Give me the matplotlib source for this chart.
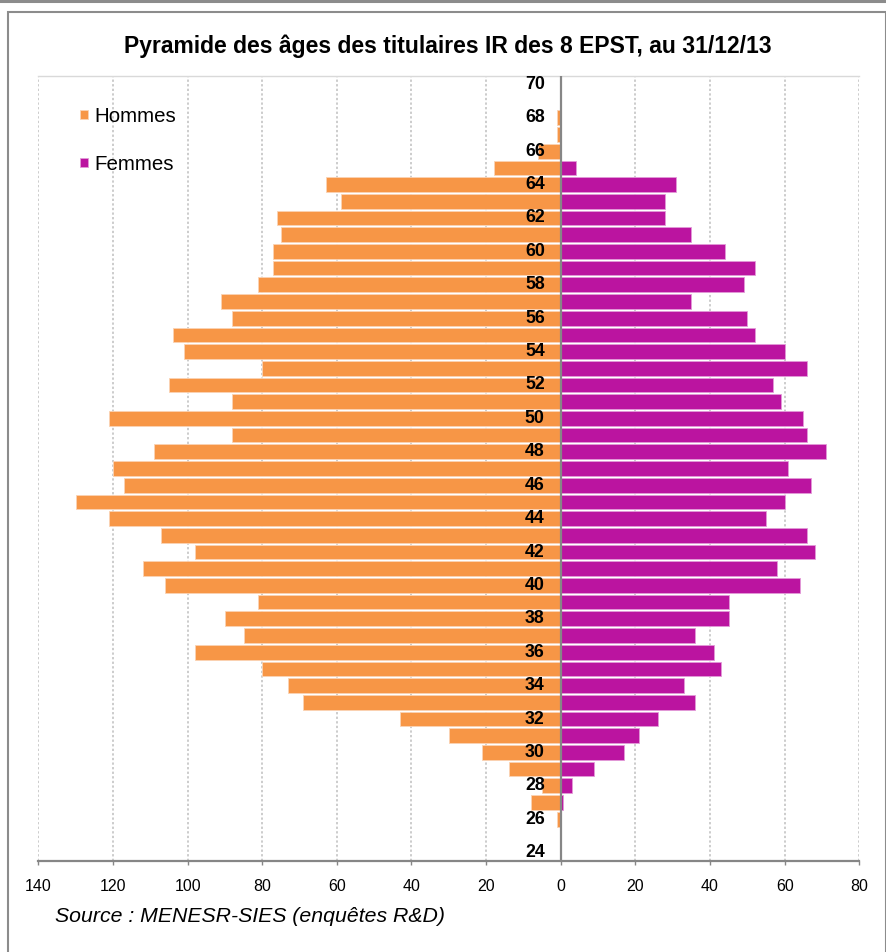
import matplotlib
matplotlib.use("Agg")
import matplotlib.pyplot as plt
from matplotlib.ticker import FuncFormatter
from matplotlib.patches import Rectangle
from matplotlib.lines import Line2D

plt.rcParams['font.family'] = ['Liberation Sans', 'DejaVu Sans']

# Age groups (years) and headcounts by sex
ages = list(range(25, 70))
hommes = [0, 1, 8, 5, 14, 21, 30, 43, 69, 73,
          80, 98, 85, 90, 81, 106, 112, 98, 107, 121,
          130, 117, 120, 109, 88, 121, 88, 105, 80, 101,
          104, 88, 91, 81, 77, 77, 75, 76, 59, 63,
          18, 6, 1, 1, 0]
femmes = [0, 0, 0.5, 3, 9, 17, 21, 26, 36, 33,
          43, 41, 36, 45, 45, 64, 58, 68, 66, 55,
          60, 67, 61, 71, 66, 65, 59, 57, 66, 60,
          52, 50, 35, 49, 52, 44, 35, 28, 28, 31,
          4, 0, 0, 0, 0]
age_labels = list(range(24, 71, 2))
x_ticks = list(range(-140, 81, 20))

title = "Pyramide des âges des titulaires IR des 8 EPST, au 31/12/13"
source = "Source : MENESR-SIES (enquêtes R&D)"

c_h = "#F79646"
c_f = "#BB14A0"

W, H = 887, 952
fig = plt.figure(figsize=(W / 100, H / 100), dpi=100)
fig.patch.set_facecolor("white")

ax = fig.add_axes([38.3 / W, 1 - 861 / H, (859.3 - 38.3) / W, (861 - 76) / H])
ax.set_xlim(-140, 80)
ax.set_ylim(23.5, 70.5)

bh = ax.barh(ages, [-v for v in hommes], height=0.88, color=c_h,
             edgecolor="#FAD3B4", linewidth=0.6, zorder=2, label="Hommes")
bf = ax.barh(ages, femmes, height=0.88, color=c_f,
             edgecolor="#E39AD8", linewidth=0.6, zorder=2, label="Femmes")

# vertical dotted grid
ax.set_xticks(x_ticks)
ax.xaxis.set_major_formatter(FuncFormatter(lambda v, p: f"{abs(int(v))}"))
ax.grid(axis="x", color="#BFBFBF", linestyle=(0, (1.5, 1.5)), linewidth=1.1, zorder=0)
ax.set_axisbelow(True)
ax.set_yticks([])

# zero axis
ax.axvline(0, color="#868686", linewidth=1.6, zorder=3)

for s in ("left", "right"):
    ax.spines[s].set_visible(False)
ax.spines["top"].set_color("#D9D9D9")
ax.spines["top"].set_linewidth(1.0)
ax.spines["bottom"].set_color("#868686")
ax.spines["bottom"].set_linewidth(1.6)
ax.tick_params(axis="x", direction="out", length=3, width=1, color="#868686",
               pad=10, labelsize=11.5, labelcolor="black")

# age labels on the central axis
for a in age_labels:
    ax.annotate(str(a), xy=(0, a), xytext=(-11.5, 0), textcoords="offset points",
                ha="right", va="center", fontsize=12.8, fontweight="bold",
                color="black", zorder=5)

leg = ax.legend(handles=[bh, bf], labels=["Hommes", "Femmes"], loc="upper left",
                bbox_to_anchor=(79.5 / W, 1 - 107 / H), bbox_transform=fig.transFigure,
                frameon=False, fontsize=14.8, handlelength=0.4, handleheight=0.3,
                handletextpad=0.3, labelspacing=1.4, borderpad=0, borderaxespad=0)

fig.text(447.5 / W, 1 - 46 / H, title, ha="center", va="center",
         fontsize=16.5, fontweight="bold")
fig.text(55 / W, 1 - 916 / H, source, ha="left", va="center",
         fontsize=15.3, style="italic")

# chart frame
fig.add_artist(Rectangle((8.5 / W, -0.05), (886 - 8.5) / W, 1.05 - 12 / H,
                         transform=fig.transFigure, fill=False,
                         edgecolor="#8C8C8C", linewidth=1.5))
fig.add_artist(Line2D([0, 1], [1 - 1 / H, 1 - 1 / H], transform=fig.transFigure,
                      color="#8C8C8C", linewidth=2.2))

fig.savefig("out.png", dpi=100, facecolor="white")
